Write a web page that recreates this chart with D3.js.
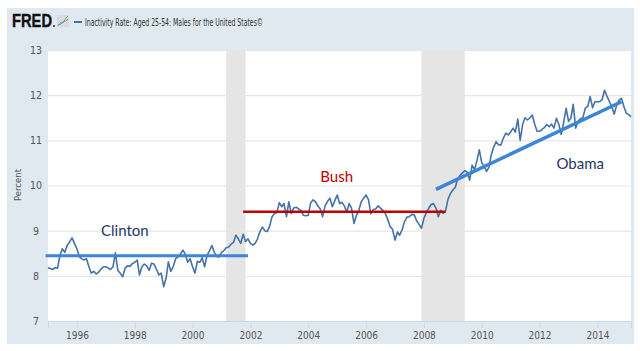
<!DOCTYPE html>
<html>
<head>
<meta charset="utf-8">
<script src="https://cdn.jsdelivr.net/npm/d3@7"></script>
<style>
  body { margin: 0; background: #fff; }
  svg { display: block; }
  .tick text { font-family: "Liberation Sans Narrow", "DejaVu Sans Condensed", sans-serif; fill: #555; }
</style>
</head>
<body>
<div id="chart"></div>
<script>
var width = 640, height = 351;

// monthly values, Jan 1995 .. Mar 2015
var seriesStart = "1995-01";
var inactivity = [
  8.18, 8.16, 8.14, 8.18, 8.17, 8.45, 8.60, 8.52, 8.68, 8.75, 8.84, 8.72,   // 1995
  8.60, 8.42, 8.38, 8.35, 8.38, 8.20, 8.06, 8.10, 8.04, 8.08, 8.15, 8.20,   // 1996
  8.20, 8.17, 8.14, 8.20, 8.51, 8.12, 8.06, 7.98, 8.17, 8.22, 8.21, 8.27,   // 1997
  8.30, 8.35, 8.02, 8.20, 8.26, 8.22, 8.12, 8.28, 8.26, 8.15, 8.02, 8.06,   // 1998
  7.76, 7.95, 8.31, 8.10, 8.20, 8.38, 8.42, 8.48, 8.57, 8.48, 8.30, 8.38,   // 1999
  8.20, 8.06, 8.32, 8.30, 8.40, 8.20, 8.45, 8.55, 8.67, 8.52, 8.43, 8.42,   // 2000
  8.52, 8.56, 8.62, 8.64, 8.70, 8.74, 8.90, 8.82, 8.72, 8.92, 8.76, 8.82,   // 2001
  8.72, 8.68, 8.72, 8.82, 8.98, 9.08, 9.00, 8.98, 9.10, 9.31, 9.38, 9.40,   // 2002
  9.62, 9.53, 9.60, 9.31, 9.64, 9.38, 9.50, 9.52, 9.48, 9.45, 9.34, 9.33,   // 2003
  9.34, 9.62, 9.68, 9.64, 9.55, 9.48, 9.31, 9.55, 9.65, 9.72, 9.53, 9.66,   // 2004
  9.79, 9.60, 9.63, 9.55, 9.41, 9.60, 9.50, 9.16, 9.34, 9.45, 9.64, 9.72,   // 2005
  9.79, 9.68, 9.37, 9.47, 9.48, 9.55, 9.50, 9.45, 9.38, 9.25, 9.09, 9.03,   // 2006
  8.79, 8.97, 8.90, 9.02, 9.20, 9.30, 9.31, 9.36, 9.35, 9.22, 9.14, 9.05,   // 2007
  9.27, 9.40, 9.49, 9.58, 9.60, 9.50, 9.31, 9.45, 9.38, 9.44, 9.70, 9.82,   // 2008
  9.90, 9.96, 10.14, 10.22, 10.28, 10.33, 10.30, 10.12, 10.45, 10.35, 10.55, 10.79, // 2009
  10.50, 10.42, 10.31, 10.40, 10.68, 10.85, 10.97, 10.90, 10.90, 11.05, 11.16, 11.12, // 2010
  11.19, 11.27, 11.18, 11.47, 11.00, 11.35, 11.50, 11.45, 11.50, 11.56, 11.35, 11.20, // 2011
  11.20, 11.24, 11.28, 11.35, 11.30, 11.36, 11.27, 11.49, 11.35, 11.13, 11.40, 11.71, // 2012
  11.42, 11.50, 11.80, 11.27, 11.42, 11.48, 11.50, 11.71, 11.75, 11.97, 11.72, 11.86, // 2013
  11.85, 11.86, 11.90, 12.11, 11.98, 11.86, 11.75, 11.58, 11.78, 11.89, 11.93, 11.75, // 2014
  11.60, 11.57, 11.52                                                        // 2015
];

var recessionStarts = ["2001-03", "2007-12"];
var recessionEnds   = ["2001-11", "2009-06"];

var yTicks = [7, 8, 9, 10, 11, 12, 13];
var xTickYears = [1996, 1998, 2000, 2002, 2004, 2006, 2008, 2010, 2012, 2014];

// hand-drawn trend annotations
var trendNames  = ["Clinton", "Bush", "Obama"];
var trendFrom   = ["1994-12", "2001-10", "2008-06"];
var trendTo     = ["2001-12", "2008-10", "2014-11"];
var trendStartV = [8.445, 9.42, 9.916];
var trendEndV   = [8.445, 9.42, 11.855];
var labelDates  = ["1996-11", "2004-06", "2012-08"];
var labelValues = [8.88, 10.07, 10.37];

var parseMonth = d3.utcParse("%Y-%m");
var t0 = parseMonth(seriesStart);
var data = inactivity.map(function(v, i) { return { date: d3.utcMonth.offset(t0, i), value: v }; });

var svg = d3.select("#chart").append("svg").attr("width", width).attr("height", height);

// outer panel
svg.append("rect").attr("x", 7).attr("y", 8).attr("width", 627).attr("height", 336).attr("fill", "#e1e9f0");

var plot = { left: 48, right: 631, top: 50, bottom: 321 };
svg.append("rect").attr("x", plot.left).attr("y", plot.top)
  .attr("width", plot.right - plot.left).attr("height", plot.bottom - plot.top).attr("fill", "#fff");

var x = d3.scaleUtc().domain([t0, parseMonth("2015-03")]).range([plot.left, plot.right]);
var y = d3.scaleLinear().domain([7, 13]).range([plot.bottom, plot.top]);

// recessions
svg.append("g").selectAll("rect").data(recessionStarts).enter().append("rect")
  .attr("x", function(d) { return x(parseMonth(d)); })
  .attr("y", plot.top)
  .attr("width", function(d, i) { return x(parseMonth(recessionEnds[i])) - x(parseMonth(d)); })
  .attr("height", plot.bottom - plot.top)
  .attr("fill", "#e5e5e5");

// y grid + labels
var yAxis = svg.append("g").attr("transform", "translate(" + plot.left + ",0)")
  .call(d3.axisLeft(y).tickValues(yTicks).tickSize(-(plot.right - plot.left)).tickPadding(8).tickFormat(d3.format("d")));
yAxis.select(".domain").remove();
yAxis.selectAll(".tick line").attr("stroke", "#e6e6e6").attr("stroke-width", 1.2);
yAxis.selectAll(".tick").filter(function(d) { return d === 7; }).select("line").remove();
yAxis.selectAll(".tick text").attr("font-size", 10.5).attr("text-anchor", "middle").attr("x", -12);

// x axis
var xAxis = svg.append("g").attr("transform", "translate(0," + plot.bottom + ")")
  .call(d3.axisBottom(x).tickValues(xTickYears.map(function(yr) { return new Date(Date.UTC(yr, 0, 1)); }))
    .tickSize(7).tickPadding(4).tickFormat(d3.utcFormat("%Y")));
xAxis.select(".domain").attr("stroke", "#ccd6eb");
xAxis.selectAll(".tick line").attr("stroke", "#ccd6eb");
xAxis.selectAll(".tick text").attr("font-size", 10);

svg.append("text").attr("transform", "translate(21,185) rotate(-90)")
  .attr("text-anchor", "middle").attr("font-family", "Liberation Sans Narrow, DejaVu Sans Condensed, sans-serif")
  .attr("font-size", 9.5).attr("fill", "#555").text("Percent");

// series
var line = d3.line().x(function(d) { return x(d.date); }).y(function(d) { return y(d.value); });
svg.append("path").datum(data).attr("d", line)
  .attr("fill", "none").attr("stroke", "#4572a7").attr("stroke-width", 1.6).attr("stroke-linejoin", "round");

// trend lines
var trendColors = ["#3d85d6", "#c00000", "#3d85d6"];
var trendWidths = [3, 2.5, 3.5];
svg.append("g").selectAll("line").data(trendNames).enter().append("line")
  .attr("x1", function(d, i) { return x(parseMonth(trendFrom[i])); })
  .attr("x2", function(d, i) { return x(parseMonth(trendTo[i])); })
  .attr("y1", function(d, i) { return y(trendStartV[i]); })
  .attr("y2", function(d, i) { return y(trendEndV[i]); })
  .attr("stroke", function(d, i) { return trendColors[i]; })
  .attr("stroke-width", function(d, i) { return trendWidths[i]; });

var labelColors = ["#1f3864", "#c00000", "#1f3864"];
svg.append("g").selectAll("text").data(trendNames).enter().append("text")
  .attr("x", function(d, i) { return x(parseMonth(labelDates[i])); })
  .attr("y", function(d, i) { return y(labelValues[i]); })
  .attr("font-family", "Lato, 'Open Sans', sans-serif").attr("font-size", 15)
  .attr("fill", function(d, i) { return labelColors[i]; })
  .text(function(d) { return d; });

// header
svg.append("text").attr("x", 12).attr("y", 27)
  .attr("font-family", "Liberation Sans, Arial, sans-serif").attr("font-weight", "bold")
  .attr("font-size", 18.5).attr("textLength", 40).attr("lengthAdjust", "spacingAndGlyphs")
  .attr("fill", "#111").attr("stroke", "#111").attr("stroke-width", 0.4).text("FRED");
svg.append("circle").attr("cx", 54).attr("cy", 26).attr("r", 0.9).attr("fill", "#111");

var icon = svg.append("g").attr("transform", "translate(57,15)");
icon.append("rect").attr("width", 12).attr("height", 12).attr("fill", "#d9dde2");
icon.append("polyline").attr("points", "1,11 4,7 6,8 9,3 11,1").attr("fill", "none").attr("stroke", "#7ab648").attr("stroke-width", 1);
icon.append("polyline").attr("points", "1,10 4,9 7,6 9,6 11,4").attr("fill", "none").attr("stroke", "#4a89c8").attr("stroke-width", 0.8);

svg.append("line").attr("x1", 74).attr("x2", 82).attr("y1", 22).attr("y2", 22).attr("stroke", "#4572a7").attr("stroke-width", 2);
svg.append("text").attr("x", 85).attr("y", 26)
  .attr("font-family", "Liberation Sans Narrow, DejaVu Sans Condensed, sans-serif")
  .attr("font-size", 10).attr("fill", "#333")
  .attr("textLength", 178).attr("lengthAdjust", "spacingAndGlyphs")
  .text("Inactivity Rate: Aged 25-54: Males for the United States©");
</script>
</body>
</html>
